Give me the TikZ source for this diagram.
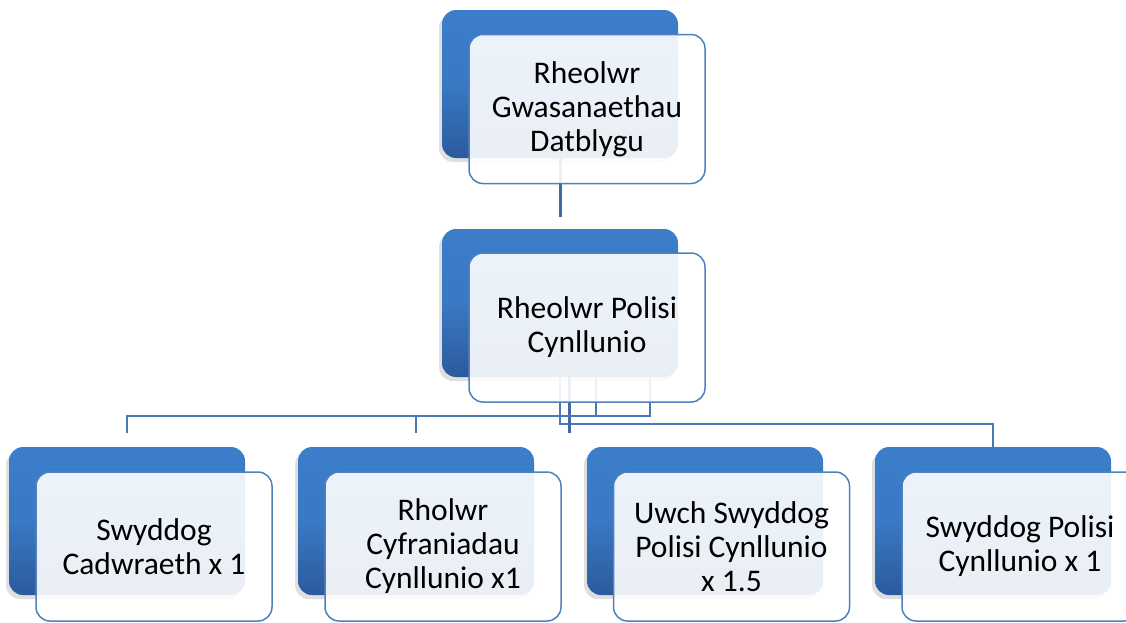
\documentclass[tikz,border=0pt]{standalone}
\usepackage{fontspec}
\setmainfont{Carlito}
\usetikzlibrary{shadows}
\definecolor{darktop}{RGB}{60,126,202}
\definecolor{darkbot}{RGB}{44,90,156}
\definecolor{boxline}{RGB}{79,129,189}
\definecolor{conn}{RGB}{74,120,182}
\definecolor{connthick}{RGB}{63,106,165}
\tikzset{
  darkbox/.style={rounded corners=14pt, minimum width=236pt, minimum height=148pt,
    top color=darktop, bottom color=darkbot, middle color=darktop!85!darkbot,
    draw=none, drop shadow={shadow xshift=-3pt, shadow yshift=-4pt, opacity=0.25}},
  lightbox/.style={rounded corners=14pt, minimum width=236pt, minimum height=149pt,
    draw=boxline, line width=1.5pt, fill=white, fill opacity=0.9, text opacity=1,
    align=center, font=\fontsize{31.5}{34}\selectfont, text=black},
  thinconn/.style={draw=conn, line width=1.6pt},
  thickconn/.style={draw=connthick, line width=3pt}
}
\begin{document}
\begin{tikzpicture}[x=1pt,y=-1pt]
\useasboundingbox (0,0) rectangle (1126,622);
\clip (0,0) rectangle (1126,622);
% dark back boxes
\node[darkbox] (d1) at (560,84) {};
\node[darkbox] (d2) at (560,303) {};
\node[darkbox] (c1) at (127,521) {};
\node[darkbox] (c2) at (416,521) {};
\node[darkbox] (c3) at (705,521) {};
\node[darkbox] (c4) at (993,521) {};
% connectors
\coordinate (t1) at ([yshift=12pt]d2.north);
\draw[thickconn] (d1.south) -- (t1);
\draw[thinconn] (d2.south) -- ++(0,47) -| (c4.north);
\draw[thickconn] ([xshift=9pt]d2.south) -- ++(0,56);
\draw[thinconn] ([xshift=90pt]d2.south) -- ++(0,39) -| ([yshift=14pt]c1.north);
\draw[thinconn] ([xshift=36pt]d2.south) -- ++(0,39);
\draw[thinconn] ([yshift=14pt]c2.north) -- ++(0,-17);
% light front boxes
\node[lightbox] (l1) at (587,109) {Rheolwr\\Gwasanaethau\\Datblygu};
\node[lightbox] (l2) at (587,327.5) {Rheolwr Polisi\\Cynllunio};
\node[lightbox] (m1) at (154,546.5) {Swyddog\\Cadwraeth x 1};
\node[lightbox] (m2) at (443,546.5) {Rholwr\\Cyfraniadau\\Cynllunio x1};
\node[lightbox] (m3) at (731.5,546.5) {Uwch Swyddog\\Polisi Cynllunio\\x 1.5};
\node[lightbox] (m4) at (1020,546.5) {Swyddog Polisi\\Cynllunio x 1};
\end{tikzpicture}
\end{document}
